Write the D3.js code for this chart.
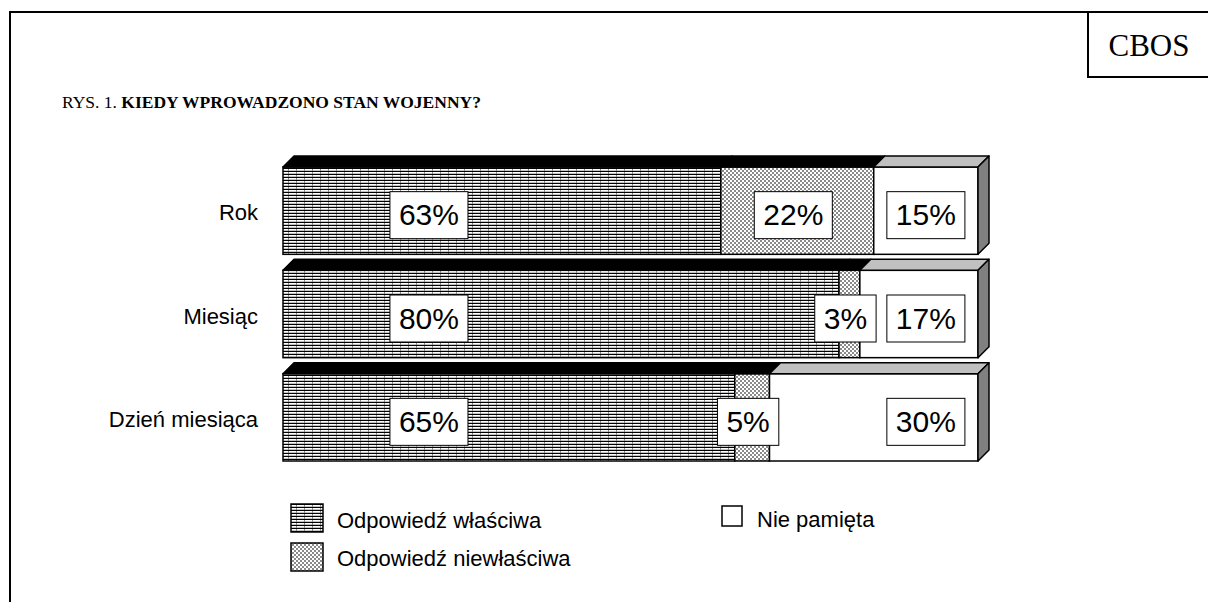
<!DOCTYPE html>
<html>
<head>
<meta charset="utf-8">
<script src="https://cdn.jsdelivr.net/npm/d3@7"></script>
<style>
  body { margin: 0; background: #fff; }
  svg { display: block; }
</style>
</head>
<body>
<svg id="chart" width="1208" height="602"></svg>
<script>
// data
var categories = ["Rok", "Miesiąc", "Dzień miesiąca"];
var seriesNames = ["Odpowiedź właściwa", "Odpowiedź niewłaściwa", "Nie pamięta"];
var wlasciwa = [63, 80, 65];
var niewlasciwa = [22, 3, 5];
var niePamieta = [15, 17, 30];
var xDomain = [0, 100];

var svg = d3.select("#chart");
var depth = 11;

// patterns
var defs = svg.append("defs");
var p1 = defs.append("pattern")
	.attr("id", "pat1")
	.attr("patternUnits", "userSpaceOnUse")
	.attr("width", 8).attr("height", 3);
p1.append("rect").attr("width", 8).attr("height", 3).attr("fill", "#fff");
p1.append("rect").attr("x", 0).attr("y", 0).attr("width", 8).attr("height", 1).attr("fill", "#000");
p1.append("rect").attr("x", 0).attr("y", 2).attr("width", 8).attr("height", 1).attr("fill", "#c4c4c4");
p1.append("rect").attr("x", 0).attr("y", 1).attr("width", 1).attr("height", 2).attr("fill", "#888");

var p2 = defs.append("pattern")
	.attr("id", "pat2")
	.attr("patternUnits", "userSpaceOnUse")
	.attr("width", 4).attr("height", 4);
p2.append("rect").attr("width", 4).attr("height", 4).attr("fill", "#fff");
p2.append("rect").attr("x", 0).attr("y", 0).attr("width", 2).attr("height", 2).attr("fill", "#8a8a8a");
p2.append("rect").attr("x", 2).attr("y", 2).attr("width", 2).attr("height", 2).attr("fill", "#8a8a8a");

var fills = ["url(#pat1)", "url(#pat2)", "#fff"];
var topFills = ["#000", "#000", "#c0c0c0"];

// frame
svg.append("path")
	.attr("d", "M10,602 V12 H1210")
	.attr("fill", "none").attr("stroke", "#000").attr("stroke-width", 2);
svg.append("path")
	.attr("d", "M1210,77 H1088 V12")
	.attr("fill", "none").attr("stroke", "#000").attr("stroke-width", 2);
svg.append("text")
	.attr("x", 1149).attr("y", 56)
	.attr("text-anchor", "middle")
	.attr("font-family", "Liberation Serif, Times New Roman, serif")
	.attr("font-size", 31)
	.text("CBOS");

// title
var title = svg.append("text")
	.attr("x", 62).attr("y", 108)
	.attr("font-family", "Liberation Serif, Times New Roman, serif")
	.attr("font-size", 17.5);
title.append("tspan").text("RYS. 1. ");
title.append("tspan").attr("font-weight", "bold").text("KIEDY WPROWADZONO STAN WOJENNY?");

// scales
var x = d3.scaleLinear().domain(xDomain).range([283, 978]);
var y = d3.scaleBand().domain(categories).range([167, 461]).paddingInner(0.155);

var rows = categories.map(function (c, i) {
	return { cat: c, vals: [wlasciwa[i], niewlasciwa[i], niePamieta[i]] };
});

var stack = d3.stack().keys([0, 1, 2]).value(function (d, k) { return d.vals[k]; });
var layers = stack(rows);

var h = y.bandwidth();
var g = svg.append("g");

layers.forEach(function (layer, k) {
	layer.forEach(function (seg) {
		var x0 = x(seg[0]), x1 = x(seg[1]), y0 = y(seg.data.cat);
		// front face
		g.append("rect")
			.attr("x", x0).attr("y", y0)
			.attr("width", x1 - x0).attr("height", h)
			.attr("fill", fills[k])
			.attr("stroke", "#000").attr("stroke-width", 1.5);
		// top face
		g.append("path")
			.attr("d", "M" + x0 + "," + y0 + " L" + (x0 + depth) + "," + (y0 - depth) +
				" L" + (x1 + depth) + "," + (y0 - depth) + " L" + x1 + "," + y0 + "Z")
			.attr("fill", topFills[k])
			.attr("stroke", "#000").attr("stroke-width", 1.5).attr("stroke-linejoin", "round");
		// right side on last segment
		if (k === layers.length - 1) {
			g.append("path")
				.attr("d", "M" + x1 + "," + y0 + " L" + (x1 + depth) + "," + (y0 - depth) +
					" L" + (x1 + depth) + "," + (y0 + h - depth) + " L" + x1 + "," + (y0 + h) + "Z")
				.attr("fill", "#808080")
				.attr("stroke", "#000").attr("stroke-width", 1.5).attr("stroke-linejoin", "round");
		}
	});
});

// value labels
layers.forEach(function (layer, k) {
	layer.forEach(function (seg) {
		var cx;
		if (k === 0) cx = x(21);
		else if (k === 2) cx = x(92.5);
		else cx = x((seg[0] + seg[1]) / 2) - 4;
		var cy = y(seg.data.cat) + h / 2 + 4;
		var lg = g.append("g");
		var t = lg.append("text")
			.attr("x", cx).attr("y", cy)
			.attr("text-anchor", "middle")
			.attr("dominant-baseline", "central")
			.attr("font-family", "Liberation Sans, Arial, sans-serif")
			.attr("font-size", 30)
			.text(seg.data.vals[k] + "%");
		var bb = t.node().getBBox();
		lg.insert("rect", "text")
			.attr("x", cx - bb.width / 2 - 9).attr("y", cy - 23)
			.attr("width", bb.width + 18).attr("height", 47)
			.attr("fill", "#fff").attr("stroke", "#000").attr("stroke-width", 1);
	});
});

// category labels
svg.append("g").selectAll("text")
	.data(categories)
	.join("text")
	.attr("x", 258)
	.attr("y", function (d) { return y(d) + h / 2 + 2; })
	.attr("text-anchor", "end")
	.attr("dominant-baseline", "central")
	.attr("font-family", "Liberation Sans, Arial, sans-serif")
	.attr("font-size", 22)
	.text(function (d) { return d; });

// legend
var legendPos = [
	{ x: 291, y: 504, w: 32, hh: 28, tx: 337, ty: 528 },
	{ x: 291, y: 543, w: 32, hh: 28, tx: 337, ty: 566 },
	{ x: 722, y: 506, w: 20, hh: 20, tx: 757, ty: 527 }
];
var leg = svg.append("g").selectAll("g")
	.data(seriesNames)
	.join("g");
leg.append("rect")
	.attr("x", function (d, i) { return legendPos[i].x; })
	.attr("y", function (d, i) { return legendPos[i].y; })
	.attr("width", function (d, i) { return legendPos[i].w; })
	.attr("height", function (d, i) { return legendPos[i].hh; })
	.attr("fill", function (d, i) { return fills[i]; })
	.attr("stroke", "#000").attr("stroke-width", 1.5);
leg.append("text")
	.attr("x", function (d, i) { return legendPos[i].tx; })
	.attr("y", function (d, i) { return legendPos[i].ty; })
	.attr("font-family", "Liberation Sans, Arial, sans-serif")
	.attr("font-size", 22)
	.text(function (d) { return d; });
</script>
</body>
</html>
